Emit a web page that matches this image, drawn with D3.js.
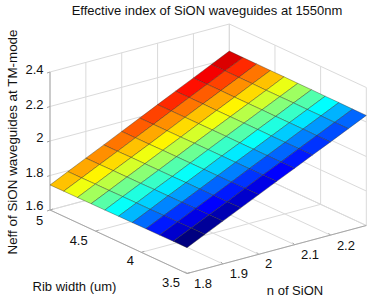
<!DOCTYPE html>
<html><head><meta charset="utf-8">
<script src="https://cdnjs.cloudflare.com/ajax/libs/d3/7.8.5/d3.min.js"></script>
<style>html,body{margin:0;padding:0;background:#fff}svg{display:block}text{font-family:"Liberation Sans",Arial,sans-serif;fill:#111}</style>
</head><body><svg id="c" width="373" height="301"></svg>
<script>
const titleText = "Effective index of SiON waveguides at 1550nm";
const nValues = [1.8,1.85,1.9,1.95,2,2.05,2.1,2.15,2.2,2.25,2.3];
const widthValues = [5,4.85,4.7,4.55,4.4,4.25,4.1,3.95,3.8,3.65,3.5];
const nTicks = [1.8,1.9,2,2.1,2.2];
const widthTicks = [5,4.5,4,3.5];
const neffTicks = [1.6,1.8,2,2.2,2.4];
// Neff per n (rows) and rib width (columns)
const neff = [
[1.745,1.746,1.746,1.747,1.747,1.748,1.748,1.749,1.749,1.750,1.750],
[1.795,1.795,1.796,1.796,1.797,1.797,1.797,1.798,1.798,1.799,1.799],
[1.845,1.845,1.846,1.846,1.846,1.847,1.847,1.847,1.848,1.848,1.848],
[1.894,1.894,1.895,1.895,1.895,1.895,1.896,1.896,1.896,1.896,1.897],
[1.944,1.944,1.944,1.945,1.945,1.945,1.945,1.945,1.945,1.946,1.946],
[1.994,1.994,1.994,1.994,1.995,1.995,1.995,1.995,1.995,1.995,1.995],
[2.044,2.044,2.044,2.044,2.044,2.044,2.043,2.043,2.043,2.043,2.043],
[2.094,2.094,2.094,2.093,2.093,2.093,2.093,2.092,2.092,2.092,2.092],
[2.143,2.143,2.143,2.142,2.142,2.142,2.141,2.141,2.141,2.140,2.140],
[2.193,2.193,2.192,2.192,2.191,2.191,2.191,2.190,2.190,2.189,2.189],
[2.243,2.242,2.242,2.241,2.241,2.240,2.240,2.239,2.239,2.238,2.238]];
// colour-map position of each facet
const facetColor = [
[.685,.61,.535,.46,.38,.305,.23,.15,.075,.00],
[.71,.635,.56,.485,.405,.33,.255,.175,.10,.025],
[.735,.66,.585,.51,.43,.355,.28,.20,.125,.05],
[.76,.685,.61,.535,.455,.38,.305,.225,.15,.075],
[.785,.71,.635,.56,.48,.405,.33,.25,.175,.10],
[.81,.735,.66,.585,.505,.43,.355,.275,.20,.125],
[.835,.76,.685,.61,.53,.455,.38,.30,.225,.15],
[.86,.785,.71,.635,.555,.48,.405,.325,.25,.175],
[.885,.81,.735,.66,.58,.505,.43,.35,.275,.20],
[.91,.835,.76,.685,.605,.53,.455,.375,.30,.225]];

const jet = d3.scaleLinear().domain([0,.125,.375,.625,.875,1])
  .range(["#000080","#0000ff","#00ffff","#ffff00","#ff0000","#800000"]);
const nX = d3.scaleLinear([1.8,2.3],[0,179.3]), nY = d3.scaleLinear([1.8,2.3],[0,-48]);
const wX = d3.scaleLinear([5,3.5],[0,137]), wY = d3.scaleLinear([5,3.5],[0,63.5]);
const zY = d3.scaleLinear([1.6,2.4],[0,-138]);
const P = (n,w,z)=>[50+nX(n)+wX(w), 210+nY(n)+wY(w)+zY(z)];
const svg = d3.select("#c");
const gridG = svg.append("g").attr("fill","none").attr("stroke","#dadada").attr("stroke-width",1);
const line = (g,a,b)=>g.append("line").attr("x1",a[0]).attr("y1",a[1]).attr("x2",b[0]).attr("y2",b[1]);
const N0=1.8,N1=2.3,W0=5,W1=3.5,Z0=1.6,Z1=2.4;
const nGrid=[...nTicks,N1], wGrid=widthTicks;
neffTicks.forEach(z=>{line(gridG,P(N0,W0,z),P(N1,W0,z));line(gridG,P(N1,W0,z),P(N1,W1,z));});
nGrid.forEach(n=>{line(gridG,P(n,W0,Z0),P(n,W0,Z1));line(gridG,P(n,W0,Z0),P(n,W1,Z0));});
wGrid.forEach(w=>{line(gridG,P(N1,w,Z0),P(N1,w,Z1));line(gridG,P(N0,w,Z0),P(N1,w,Z0));});
const axisG = svg.append("g").attr("stroke","#a8a8a8").attr("stroke-width",1);
line(axisG,P(N0,W0,Z0),P(N0,W0,Z1));
line(axisG,P(N0,W0,Z0),P(N0,W1,Z0));
line(axisG,P(N0,W1,Z0),P(N1,W1,Z0));
neffTicks.forEach(z=>{const p=P(N0,W0,z);line(axisG,p,[p[0]-3,p[1]+1]);});
nTicks.forEach(n=>{const p=P(n,W1,Z0);line(axisG,p,[p[0]-2,p[1]-2]);});
widthTicks.forEach(w=>{const p=P(N0,w,Z0);line(axisG,p,[p[0]+3,p[1]-1]);});

const cells=[];
facetColor.forEach((row,i)=>row.forEach((c,j)=>cells.push({i,j,c})));
cells.sort((a,b)=>(b.i-a.i)||(a.j-b.j));
svg.append("g").selectAll("path").data(cells).join("path")
 .attr("d",d=>"M"+[[d.i,d.j],[d.i+1,d.j],[d.i+1,d.j+1],[d.i,d.j+1]]
   .map(([a,b])=>P(nValues[a],widthValues[b],neff[a][b]).join(",")).join("L")+"Z")
 .attr("fill",d=>jet(d.c)).attr("stroke","#2c2c20").attr("stroke-opacity",.55).attr("stroke-width",.7);

const text=(x,y,t,size=13,anchor="middle")=>svg.append("text").attr("x",x).attr("y",y).attr("text-anchor",anchor).attr("font-size",size).text(t);
text(207,15,titleText,13);
const zLab=[.3,1,1,2.5,1.5];
neffTicks.forEach((z,i)=>{const p=P(N0,W0,z);text(p[0]-6.5,p[1]+zLab[i],String(z),13,"end");});
const wLab=[[-10.5,15.2],[-17,13.5],[-11,12.5],[-16,13]];
widthTicks.forEach((w,i)=>{const p=P(N0,w,Z0);text(p[0]+wLab[i][0],p[1]+wLab[i][1],String(w));});
const nLab=[[16,14],[16,13.6],[10,13.2],[15.4,13.8],[15.5,14.4]];
nTicks.forEach((n,i)=>{const p=P(n,W1,Z0);text(p[0]+nLab[i][0],p[1]+nLab[i][1],String(n));});
text(74.5,291,"Rib width (um)",13);
text(295,294.5,"n of SiON",13);
svg.append("text").attr("transform","translate(17,142) rotate(-90)").attr("text-anchor","middle").attr("font-size",13.4).text("Neff of SiON waveguides at TM-mode");
</script></body></html>
